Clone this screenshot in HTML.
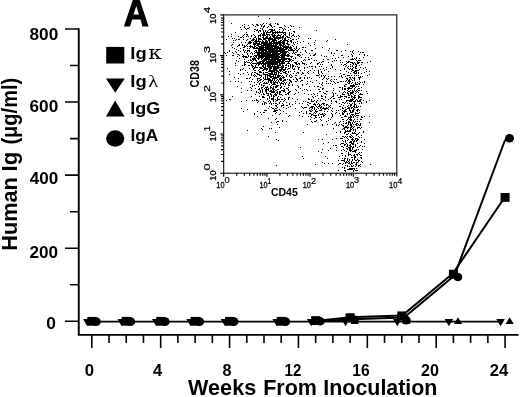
<!DOCTYPE html>
<html><head><meta charset="utf-8"><title>Figure A</title>
<style>html,body{margin:0;padding:0;background:#fff}svg{display:block}</style></head>
<body>
<svg width="520" height="397" viewBox="0 0 520 397">
<rect width="520" height="397" fill="#fff"/>
<g id="axes"><path d="M78.75 28.2V334.9H518.5" fill="none" stroke="#000" stroke-width="1.9" stroke-linejoin="miter"/><path d="M65 321.30H78.75M70 284.76H78.75M65 248.22H78.75M70 211.69H78.75M65 175.15H78.75M70 138.61H78.75M65 102.07H78.75M70 65.53H78.75M65 29.00H78.75M91.80 334.9V348.1M109.02 334.9V342.9M126.24 334.9V342.9M143.46 334.9V342.9M160.68 334.9V348.1M177.90 334.9V342.9M195.12 334.9V342.9M212.34 334.9V342.9M229.56 334.9V348.1M246.78 334.9V342.9M264.00 334.9V342.9M281.22 334.9V342.9M298.44 334.9V348.1M315.66 334.9V342.9M332.88 334.9V342.9M350.10 334.9V342.9M367.32 334.9V348.1M384.54 334.9V342.9M401.76 334.9V342.9M418.98 334.9V342.9M436.20 334.9V348.1M453.42 334.9V342.9M470.64 334.9V342.9M487.86 334.9V342.9M505.08 334.9V348.1" fill="none" stroke="#000" stroke-width="1.6"/></g>
<g id="data" fill="#000"><path d="M87.80 321.60H503.08" stroke="#000" stroke-width="1.7"/><polyline points="315.66,321.00 350.10,317.30 402.26,315.40 452.82,273.60 502.58,200.50" fill="none" stroke="#000" stroke-width="2.0" stroke-linejoin="round" stroke-linecap="round"/><polyline points="317.66,321.50 352.10,319.30 404.06,317.60 454.52,275.40 504.48,141.50 506.58,138.30" fill="none" stroke="#000" stroke-width="2.0" stroke-linejoin="round" stroke-linecap="round"/><path d="M83.00 319.00h8.6l-4.3 7.2z"/><path d="M117.44 319.00h8.6l-4.3 7.2z"/><path d="M151.88 319.00h8.6l-4.3 7.2z"/><path d="M186.32 319.00h8.6l-4.3 7.2z"/><path d="M220.76 319.00h8.6l-4.3 7.2z"/><path d="M272.42 319.00h8.6l-4.3 7.2z"/><path d="M306.86 319.00h8.6l-4.3 7.2z"/><path d="M341.30 319.00h8.6l-4.3 7.2z"/><path d="M392.96 319.00h8.6l-4.3 7.2z"/><path d="M444.62 319.00h8.6l-4.3 7.2z"/><path d="M496.28 319.00h8.6l-4.3 7.2z"/><path d="M92.30 324.00h8.2l-4.1 -6.7z"/><path d="M126.74 324.00h8.2l-4.1 -6.7z"/><path d="M161.18 324.00h8.2l-4.1 -6.7z"/><path d="M195.62 324.00h8.2l-4.1 -6.7z"/><path d="M230.06 324.00h8.2l-4.1 -6.7z"/><path d="M281.72 324.00h8.2l-4.1 -6.7z"/><path d="M316.16 324.00h8.2l-4.1 -6.7z"/><path d="M350.60 324.00h8.2l-4.1 -6.7z"/><path d="M402.26 324.00h8.2l-4.1 -6.7z"/><path d="M453.92 324.00h8.2l-4.1 -6.7z"/><path d="M505.58 324.00h8.2l-4.1 -6.7z"/><rect x="87.30" y="316.90" width="9" height="8.8"/><rect x="121.74" y="316.90" width="9" height="8.8"/><rect x="156.18" y="316.90" width="9" height="8.8"/><rect x="190.62" y="316.90" width="9" height="8.8"/><rect x="225.06" y="316.90" width="9" height="8.8"/><rect x="276.72" y="316.90" width="9" height="8.8"/><rect x="311.16" y="316.17" width="9" height="8.8"/><rect x="345.60" y="313.25" width="9" height="8.8"/><rect x="397.26" y="311.42" width="9" height="8.8"/><rect x="448.92" y="269.77" width="9" height="8.8"/><rect x="500.58" y="193.04" width="9" height="8.8"/><ellipse cx="96.20" cy="321.60" rx="4.5" ry="4.3"/><ellipse cx="130.64" cy="321.60" rx="4.5" ry="4.3"/><ellipse cx="165.08" cy="321.60" rx="4.5" ry="4.3"/><ellipse cx="199.52" cy="321.60" rx="4.5" ry="4.3"/><ellipse cx="233.96" cy="321.60" rx="4.5" ry="4.3"/><ellipse cx="285.62" cy="321.60" rx="4.5" ry="4.3"/><ellipse cx="320.06" cy="321.23" rx="4.5" ry="4.3"/><ellipse cx="354.50" cy="319.77" rx="4.5" ry="4.3"/><ellipse cx="406.16" cy="320.14" rx="4.5" ry="4.3"/><ellipse cx="457.82" cy="277.02" rx="4.5" ry="4.3"/><ellipse cx="509.48" cy="138.18" rx="4.5" ry="4.3"/></g>
<g id="legend" fill="#000"><rect x="106.2" y="46.9" width="18.1" height="16.6"/><path d="M106 78.4H124.8L115.2 92.8z"/><path d="M106 116.6H124.6L115.1 100.6z"/><ellipse cx="115.2" cy="138.5" rx="9.1" ry="8.3"/></g>
<g id="inset"><rect x="223.7" y="14.9" width="173.10000000000002" height="158.29999999999998" fill="none" stroke="#000" stroke-width="1.05"/><path d="M223.70 173.2v3.6M223.7 173.20h-3.6M236.70 173.2v2.6M223.7 161.40h-2.6M244.31 173.2v2.6M223.7 154.50h-2.6M249.71 173.2v2.6M223.7 149.60h-2.6M253.90 173.2v2.6M223.7 145.80h-2.6M257.32 173.2v2.6M223.7 142.70h-2.6M260.21 173.2v2.6M223.7 140.07h-2.6M262.71 173.2v2.6M223.7 137.80h-2.6M264.92 173.2v2.6M223.7 135.79h-2.6M266.90 173.2v3.6M223.7 134.00h-3.6M279.90 173.2v2.6M223.7 122.20h-2.6M287.51 173.2v2.6M223.7 115.30h-2.6M292.91 173.2v2.6M223.7 110.40h-2.6M297.10 173.2v2.6M223.7 106.60h-2.6M300.52 173.2v2.6M223.7 103.50h-2.6M303.41 173.2v2.6M223.7 100.87h-2.6M305.91 173.2v2.6M223.7 98.60h-2.6M308.12 173.2v2.6M223.7 96.59h-2.6M310.10 173.2v3.6M223.7 94.80h-3.6M323.10 173.2v2.6M223.7 83.00h-2.6M330.71 173.2v2.6M223.7 76.10h-2.6M336.11 173.2v2.6M223.7 71.20h-2.6M340.30 173.2v2.6M223.7 67.40h-2.6M343.72 173.2v2.6M223.7 64.30h-2.6M346.61 173.2v2.6M223.7 61.67h-2.6M349.11 173.2v2.6M223.7 59.40h-2.6M351.32 173.2v2.6M223.7 57.39h-2.6M353.30 173.2v3.6M223.7 55.60h-3.6M366.30 173.2v2.6M223.7 43.80h-2.6M373.91 173.2v2.6M223.7 36.90h-2.6M379.31 173.2v2.6M223.7 32.00h-2.6M383.50 173.2v2.6M223.7 28.20h-2.6M386.92 173.2v2.6M223.7 25.10h-2.6M389.81 173.2v2.6M223.7 22.47h-2.6M392.31 173.2v2.6M223.7 20.20h-2.6M394.52 173.2v2.6M223.7 18.19h-2.6M223.7 14.9h-3.4M396.8 173.2v3.4" fill="none" stroke="#000" stroke-width="1.15"/><path d="M224 52.5h1M225 53.5h1M226 39.5h1M226 55.5h1M226 100.5h1M227 52.5h1M227 68.5h1M228 36.5h1M229 50.5h1M229 51.5h1M229 71.5h1M229 74.5h1M229 99.5h1M230 81.5h1M230 99.5h1M231 23.5h1M231 34.5h1M231 36.5h1M231 45.5h1M232 38.5h1M232 44.5h1M232 47.5h1M232 52.5h1M232 55.5h1M232 96.5h1M233 40.5h1M233 42.5h1M233 53.5h1M233 55.5h1M234 38.5h1M234 48.5h1M234 77.5h1M235 32.5h1M235 40.5h1M235 51.5h1M235 63.5h1M235 65.5h1M235 81.5h1M236 39.5h1M236 49.5h1M236 52.5h1M236 60.5h1M237 46.5h1M237 54.5h1M237 56.5h1M237 86.5h1M238 36.5h1M238 39.5h1M238 45.5h1M238 50.5h1M238 54.5h1M238 61.5h1M238 73.5h1M238 78.5h1M238 81.5h1M239 39.5h1M239 44.5h1M239 45.5h1M239 55.5h1M239 58.5h1M240 27.5h1M240 37.5h1M240 48.5h1M240 51.5h1M240 69.5h1M240 70.5h1M240 74.5h1M241 29.5h1M241 37.5h1M241 42.5h1M241 82.5h1M241 88.5h1M241 92.5h1M241 101.5h1M241 108.5h1M242 25.5h1M242 36.5h1M242 44.5h1M242 45.5h1M242 54.5h1M242 56.5h1M242 65.5h1M242 69.5h1M243 35.5h1M243 37.5h1M243 39.5h1M243 47.5h1M243 49.5h1M243 50.5h1M243 55.5h1M243 56.5h1M243 57.5h1M243 68.5h1M243 73.5h1M243 111.5h1M244 24.5h1M244 26.5h1M244 27.5h1M244 34.5h1M244 45.5h1M244 46.5h1M244 47.5h1M244 51.5h1M244 52.5h1M244 56.5h1M244 59.5h1M244 61.5h1M244 62.5h1M244 63.5h1M244 64.5h1M244 65.5h1M245 28.5h1M245 42.5h1M245 46.5h1M245 50.5h1M245 56.5h1M245 57.5h1M245 62.5h1M245 64.5h1M245 70.5h1M246 29.5h1M246 32.5h1M246 34.5h1M246 36.5h1M246 40.5h1M246 45.5h1M246 52.5h1M246 56.5h1M246 57.5h1M246 61.5h1M246 78.5h1M246 100.5h1M247 28.5h1M247 34.5h1M247 35.5h1M247 39.5h1M247 44.5h1M247 46.5h1M247 48.5h1M247 50.5h1M247 51.5h1M247 53.5h1M247 54.5h1M247 57.5h1M247 62.5h1M247 72.5h1M247 78.5h1M247 90.5h1M247 109.5h1M247 130.5h1M248 25.5h1M248 28.5h1M248 36.5h1M248 42.5h1M248 43.5h1M248 50.5h1M248 55.5h1M248 56.5h1M248 60.5h1M248 62.5h1M248 65.5h1M248 74.5h1M249 27.5h1M249 41.5h1M249 42.5h1M249 43.5h1M249 46.5h1M249 48.5h1M249 50.5h1M249 51.5h1M249 62.5h1M249 65.5h1M249 68.5h1M249 78.5h1M249 81.5h1M250 38.5h1M250 41.5h1M250 42.5h1M250 43.5h1M250 45.5h1M250 46.5h1M250 47.5h1M250 53.5h1M250 56.5h1M250 57.5h1M250 59.5h1M250 60.5h1M250 63.5h1M250 77.5h1M250 84.5h1M250 87.5h1M251 35.5h1M251 36.5h1M251 40.5h1M251 42.5h1M251 46.5h1M251 52.5h1M251 56.5h1M251 60.5h1M251 62.5h1M251 64.5h1M251 65.5h1M251 73.5h1M251 74.5h1M251 75.5h1M251 81.5h1M251 88.5h1M251 90.5h1M251 96.5h1M252 24.5h1M252 39.5h1M252 40.5h1M252 46.5h1M252 47.5h1M252 53.5h1M252 54.5h1M252 58.5h1M252 59.5h1M252 61.5h1M252 63.5h1M252 65.5h1M252 66.5h1M252 67.5h1M252 72.5h1M252 79.5h1M252 85.5h1M252 86.5h1M252 100.5h1M253 25.5h1M253 34.5h1M253 38.5h1M253 39.5h1M253 40.5h1M253 42.5h1M253 43.5h1M253 44.5h1M253 47.5h1M253 48.5h1M253 56.5h1M253 58.5h1M253 59.5h1M253 60.5h1M253 63.5h1M253 66.5h1M253 68.5h1M253 69.5h1M253 75.5h1M254 29.5h1M254 31.5h1M254 35.5h1M254 37.5h1M254 39.5h1M254 41.5h1M254 43.5h1M254 44.5h1M254 45.5h1M254 46.5h1M254 47.5h1M254 48.5h1M254 51.5h1M254 53.5h1M254 55.5h1M254 57.5h1M254 58.5h1M254 59.5h1M254 63.5h1M254 67.5h1M254 68.5h1M254 70.5h1M254 72.5h1M254 74.5h1M254 76.5h1M254 82.5h1M254 85.5h1M254 100.5h1M254 113.5h1M254 114.5h1M255 26.5h1M255 29.5h1M255 36.5h1M255 37.5h1M255 40.5h1M255 41.5h1M255 42.5h1M255 43.5h1M255 44.5h1M255 46.5h1M255 48.5h1M255 50.5h1M255 52.5h1M255 55.5h1M255 56.5h1M255 58.5h1M255 59.5h1M255 60.5h1M255 63.5h1M255 65.5h1M255 66.5h1M255 67.5h1M255 70.5h1M255 72.5h1M255 75.5h1M255 88.5h1M255 94.5h1M256 24.5h1M256 30.5h1M256 38.5h1M256 39.5h1M256 40.5h1M256 41.5h1M256 42.5h1M256 43.5h1M256 45.5h1M256 47.5h1M256 48.5h1M256 50.5h1M256 51.5h1M256 52.5h1M256 55.5h1M256 56.5h1M256 57.5h1M256 60.5h1M256 61.5h1M256 63.5h1M256 64.5h1M256 67.5h1M256 73.5h1M256 76.5h1M256 84.5h1M256 91.5h1M256 92.5h1M256 99.5h1M256 100.5h1M257 24.5h1M257 25.5h1M257 29.5h1M257 30.5h1M257 41.5h1M257 43.5h1M257 44.5h1M257 45.5h1M257 47.5h1M257 48.5h1M257 52.5h1M257 53.5h1M257 54.5h1M257 55.5h1M257 58.5h1M257 62.5h1M257 63.5h1M257 67.5h1M257 73.5h1M257 74.5h1M257 78.5h1M257 79.5h1M257 80.5h1M257 82.5h1M257 100.5h1M257 102.5h1M257 111.5h1M257 116.5h1M258 16.5h1M258 25.5h1M258 31.5h1M258 32.5h1M258 35.5h1M258 36.5h1M258 37.5h1M258 38.5h1M258 39.5h1M258 40.5h1M258 41.5h1M258 43.5h1M258 44.5h1M258 45.5h1M258 46.5h1M258 48.5h1M258 49.5h1M258 50.5h1M258 51.5h1M258 52.5h1M258 53.5h1M258 54.5h1M258 55.5h1M258 56.5h1M258 57.5h1M258 58.5h1M258 59.5h1M258 62.5h1M258 63.5h1M258 64.5h1M258 65.5h1M258 70.5h1M258 74.5h1M258 78.5h1M258 81.5h1M258 86.5h1M258 89.5h1M258 92.5h1M258 101.5h1M259 30.5h1M259 35.5h1M259 38.5h1M259 39.5h1M259 41.5h1M259 42.5h1M259 43.5h1M259 44.5h1M259 46.5h1M259 47.5h1M259 48.5h1M259 49.5h1M259 50.5h1M259 51.5h1M259 52.5h1M259 53.5h1M259 54.5h1M259 55.5h1M259 56.5h1M259 57.5h1M259 58.5h1M259 61.5h1M259 62.5h1M259 63.5h1M259 64.5h1M259 67.5h1M259 69.5h1M259 71.5h1M259 72.5h1M259 74.5h1M259 75.5h1M259 78.5h1M259 80.5h1M259 83.5h1M259 84.5h1M259 88.5h1M259 89.5h1M259 93.5h1M259 96.5h1M260 24.5h1M260 28.5h1M260 30.5h1M260 31.5h1M260 34.5h1M260 35.5h1M260 36.5h1M260 38.5h1M260 39.5h1M260 41.5h1M260 44.5h1M260 46.5h1M260 47.5h1M260 48.5h1M260 49.5h1M260 50.5h1M260 52.5h1M260 53.5h1M260 55.5h1M260 56.5h1M260 57.5h1M260 61.5h1M260 62.5h1M260 63.5h1M260 67.5h1M260 68.5h1M260 71.5h1M260 72.5h1M260 75.5h1M260 77.5h1M260 79.5h1M260 80.5h1M260 82.5h1M260 90.5h1M260 91.5h1M260 92.5h1M260 99.5h1M260 112.5h1M261 25.5h1M261 26.5h1M261 33.5h1M261 39.5h1M261 42.5h1M261 43.5h1M261 44.5h1M261 45.5h1M261 46.5h1M261 47.5h1M261 48.5h1M261 49.5h1M261 50.5h1M261 51.5h1M261 52.5h1M261 53.5h1M261 54.5h1M261 55.5h1M261 56.5h1M261 57.5h1M261 58.5h1M261 59.5h1M261 61.5h1M261 63.5h1M261 64.5h1M261 67.5h1M261 68.5h1M261 72.5h1M261 75.5h1M261 76.5h1M261 79.5h1M261 84.5h1M261 85.5h1M261 87.5h1M261 88.5h1M261 94.5h1M261 114.5h1M261 128.5h1M262 24.5h1M262 28.5h1M262 29.5h1M262 34.5h1M262 35.5h1M262 37.5h1M262 40.5h1M262 41.5h1M262 42.5h1M262 43.5h1M262 45.5h1M262 46.5h1M262 47.5h1M262 48.5h1M262 49.5h1M262 50.5h1M262 51.5h1M262 52.5h1M262 53.5h1M262 54.5h1M262 55.5h1M262 56.5h1M262 57.5h1M262 58.5h1M262 60.5h1M262 61.5h1M262 62.5h1M262 63.5h1M262 65.5h1M262 66.5h1M262 68.5h1M262 70.5h1M262 81.5h1M262 87.5h1M262 89.5h1M262 90.5h1M262 91.5h1M262 92.5h1M262 96.5h1M262 97.5h1M262 103.5h1M262 104.5h1M262 129.5h1M263 23.5h1M263 26.5h1M263 27.5h1M263 30.5h1M263 31.5h1M263 32.5h1M263 33.5h1M263 34.5h1M263 35.5h1M263 36.5h1M263 37.5h1M263 38.5h1M263 39.5h1M263 41.5h1M263 42.5h1M263 43.5h1M263 44.5h1M263 45.5h1M263 46.5h1M263 47.5h1M263 48.5h1M263 49.5h1M263 50.5h1M263 51.5h1M263 52.5h1M263 53.5h1M263 54.5h1M263 55.5h1M263 56.5h1M263 57.5h1M263 59.5h1M263 60.5h1M263 61.5h1M263 62.5h1M263 63.5h1M263 64.5h1M263 65.5h1M263 66.5h1M263 67.5h1M263 69.5h1M263 70.5h1M263 72.5h1M263 73.5h1M263 74.5h1M263 77.5h1M263 78.5h1M263 80.5h1M263 83.5h1M263 85.5h1M263 86.5h1M263 93.5h1M263 94.5h1M263 96.5h1M263 97.5h1M263 101.5h1M263 112.5h1M263 126.5h1M264 25.5h1M264 26.5h1M264 32.5h1M264 33.5h1M264 34.5h1M264 35.5h1M264 38.5h1M264 39.5h1M264 42.5h1M264 43.5h1M264 44.5h1M264 45.5h1M264 47.5h1M264 49.5h1M264 50.5h1M264 52.5h1M264 53.5h1M264 54.5h1M264 55.5h1M264 56.5h1M264 58.5h1M264 59.5h1M264 60.5h1M264 61.5h1M264 63.5h1M264 64.5h1M264 67.5h1M264 68.5h1M264 69.5h1M264 74.5h1M264 79.5h1M264 82.5h1M264 83.5h1M264 85.5h1M264 88.5h1M264 94.5h1M264 97.5h1M264 102.5h1M264 103.5h1M264 104.5h1M264 110.5h1M264 112.5h1M265 30.5h1M265 31.5h1M265 35.5h1M265 37.5h1M265 38.5h1M265 39.5h1M265 40.5h1M265 41.5h1M265 42.5h1M265 43.5h1M265 44.5h1M265 45.5h1M265 46.5h1M265 47.5h1M265 48.5h1M265 49.5h1M265 50.5h1M265 51.5h1M265 52.5h1M265 53.5h1M265 54.5h1M265 55.5h1M265 56.5h1M265 57.5h1M265 58.5h1M265 59.5h1M265 60.5h1M265 62.5h1M265 63.5h1M265 64.5h1M265 65.5h1M265 66.5h1M265 67.5h1M265 68.5h1M265 69.5h1M265 72.5h1M265 74.5h1M265 75.5h1M265 76.5h1M265 77.5h1M265 78.5h1M265 79.5h1M265 83.5h1M265 87.5h1M265 89.5h1M265 90.5h1M265 91.5h1M265 102.5h1M265 110.5h1M266 23.5h1M266 32.5h1M266 33.5h1M266 34.5h1M266 36.5h1M266 37.5h1M266 38.5h1M266 40.5h1M266 41.5h1M266 42.5h1M266 43.5h1M266 44.5h1M266 45.5h1M266 46.5h1M266 47.5h1M266 48.5h1M266 49.5h1M266 50.5h1M266 51.5h1M266 52.5h1M266 53.5h1M266 54.5h1M266 55.5h1M266 56.5h1M266 57.5h1M266 58.5h1M266 59.5h1M266 60.5h1M266 61.5h1M266 62.5h1M266 63.5h1M266 68.5h1M266 69.5h1M266 70.5h1M266 72.5h1M266 74.5h1M266 79.5h1M266 82.5h1M266 83.5h1M266 87.5h1M266 88.5h1M266 89.5h1M266 90.5h1M266 91.5h1M266 92.5h1M266 93.5h1M266 103.5h1M266 110.5h1M267 27.5h1M267 31.5h1M267 32.5h1M267 34.5h1M267 35.5h1M267 36.5h1M267 37.5h1M267 38.5h1M267 41.5h1M267 42.5h1M267 43.5h1M267 44.5h1M267 45.5h1M267 46.5h1M267 47.5h1M267 48.5h1M267 49.5h1M267 51.5h1M267 52.5h1M267 53.5h1M267 54.5h1M267 55.5h1M267 56.5h1M267 57.5h1M267 58.5h1M267 59.5h1M267 61.5h1M267 62.5h1M267 63.5h1M267 64.5h1M267 65.5h1M267 66.5h1M267 68.5h1M267 69.5h1M267 72.5h1M267 74.5h1M267 75.5h1M267 76.5h1M267 77.5h1M267 78.5h1M267 79.5h1M267 83.5h1M267 86.5h1M267 87.5h1M267 89.5h1M267 93.5h1M267 95.5h1M267 98.5h1M267 99.5h1M268 26.5h1M268 30.5h1M268 32.5h1M268 34.5h1M268 38.5h1M268 39.5h1M268 40.5h1M268 43.5h1M268 44.5h1M268 45.5h1M268 46.5h1M268 47.5h1M268 48.5h1M268 49.5h1M268 50.5h1M268 51.5h1M268 52.5h1M268 53.5h1M268 54.5h1M268 55.5h1M268 56.5h1M268 57.5h1M268 58.5h1M268 59.5h1M268 60.5h1M268 61.5h1M268 62.5h1M268 63.5h1M268 64.5h1M268 65.5h1M268 66.5h1M268 67.5h1M268 71.5h1M268 73.5h1M268 75.5h1M268 78.5h1M268 79.5h1M268 80.5h1M268 81.5h1M268 82.5h1M268 88.5h1M268 89.5h1M268 90.5h1M268 93.5h1M268 94.5h1M268 95.5h1M268 101.5h1M268 108.5h1M268 118.5h1M268 136.5h1M269 18.5h1M269 24.5h1M269 29.5h1M269 32.5h1M269 34.5h1M269 35.5h1M269 37.5h1M269 38.5h1M269 39.5h1M269 40.5h1M269 41.5h1M269 42.5h1M269 43.5h1M269 44.5h1M269 45.5h1M269 46.5h1M269 47.5h1M269 48.5h1M269 49.5h1M269 50.5h1M269 51.5h1M269 52.5h1M269 53.5h1M269 54.5h1M269 55.5h1M269 56.5h1M269 57.5h1M269 58.5h1M269 59.5h1M269 60.5h1M269 61.5h1M269 62.5h1M269 63.5h1M269 64.5h1M269 65.5h1M269 66.5h1M269 67.5h1M269 68.5h1M269 69.5h1M269 70.5h1M269 71.5h1M269 73.5h1M269 74.5h1M269 75.5h1M269 76.5h1M269 78.5h1M269 79.5h1M269 80.5h1M269 84.5h1M269 91.5h1M269 96.5h1M269 97.5h1M269 98.5h1M269 100.5h1M269 103.5h1M269 106.5h1M269 128.5h1M270 23.5h1M270 24.5h1M270 25.5h1M270 29.5h1M270 31.5h1M270 32.5h1M270 36.5h1M270 37.5h1M270 38.5h1M270 39.5h1M270 42.5h1M270 43.5h1M270 44.5h1M270 45.5h1M270 46.5h1M270 47.5h1M270 48.5h1M270 49.5h1M270 50.5h1M270 51.5h1M270 52.5h1M270 53.5h1M270 54.5h1M270 55.5h1M270 56.5h1M270 57.5h1M270 59.5h1M270 60.5h1M270 61.5h1M270 62.5h1M270 63.5h1M270 64.5h1M270 65.5h1M270 66.5h1M270 67.5h1M270 68.5h1M270 69.5h1M270 70.5h1M270 71.5h1M270 73.5h1M270 74.5h1M270 75.5h1M270 76.5h1M270 77.5h1M270 79.5h1M270 80.5h1M270 81.5h1M270 82.5h1M270 86.5h1M270 87.5h1M270 88.5h1M270 90.5h1M270 91.5h1M270 93.5h1M270 94.5h1M270 101.5h1M270 102.5h1M271 25.5h1M271 26.5h1M271 29.5h1M271 30.5h1M271 31.5h1M271 34.5h1M271 38.5h1M271 39.5h1M271 41.5h1M271 42.5h1M271 43.5h1M271 44.5h1M271 45.5h1M271 46.5h1M271 47.5h1M271 48.5h1M271 49.5h1M271 50.5h1M271 51.5h1M271 52.5h1M271 54.5h1M271 55.5h1M271 56.5h1M271 57.5h1M271 58.5h1M271 59.5h1M271 60.5h1M271 61.5h1M271 62.5h1M271 63.5h1M271 64.5h1M271 66.5h1M271 67.5h1M271 68.5h1M271 70.5h1M271 71.5h1M271 72.5h1M271 73.5h1M271 74.5h1M271 76.5h1M271 77.5h1M271 80.5h1M271 81.5h1M271 82.5h1M271 83.5h1M271 85.5h1M271 87.5h1M271 90.5h1M271 91.5h1M271 92.5h1M271 94.5h1M271 95.5h1M271 96.5h1M271 98.5h1M271 99.5h1M271 103.5h1M271 104.5h1M271 107.5h1M271 122.5h1M271 128.5h1M272 27.5h1M272 29.5h1M272 30.5h1M272 31.5h1M272 32.5h1M272 33.5h1M272 34.5h1M272 35.5h1M272 36.5h1M272 38.5h1M272 39.5h1M272 40.5h1M272 41.5h1M272 43.5h1M272 45.5h1M272 46.5h1M272 47.5h1M272 48.5h1M272 49.5h1M272 50.5h1M272 51.5h1M272 52.5h1M272 53.5h1M272 54.5h1M272 55.5h1M272 56.5h1M272 57.5h1M272 58.5h1M272 59.5h1M272 60.5h1M272 61.5h1M272 62.5h1M272 63.5h1M272 64.5h1M272 65.5h1M272 66.5h1M272 70.5h1M272 71.5h1M272 72.5h1M272 73.5h1M272 74.5h1M272 76.5h1M272 78.5h1M272 79.5h1M272 80.5h1M272 84.5h1M272 88.5h1M272 89.5h1M272 91.5h1M272 92.5h1M272 98.5h1M272 99.5h1M272 108.5h1M272 115.5h1M273 30.5h1M273 32.5h1M273 33.5h1M273 35.5h1M273 36.5h1M273 37.5h1M273 39.5h1M273 40.5h1M273 41.5h1M273 42.5h1M273 43.5h1M273 44.5h1M273 45.5h1M273 46.5h1M273 48.5h1M273 49.5h1M273 50.5h1M273 51.5h1M273 52.5h1M273 53.5h1M273 54.5h1M273 55.5h1M273 56.5h1M273 57.5h1M273 58.5h1M273 59.5h1M273 60.5h1M273 61.5h1M273 62.5h1M273 63.5h1M273 64.5h1M273 66.5h1M273 67.5h1M273 68.5h1M273 69.5h1M273 70.5h1M273 71.5h1M273 74.5h1M273 75.5h1M273 76.5h1M273 77.5h1M273 78.5h1M273 81.5h1M273 82.5h1M273 83.5h1M273 84.5h1M273 86.5h1M273 87.5h1M273 88.5h1M273 89.5h1M273 90.5h1M273 91.5h1M273 92.5h1M273 95.5h1M273 96.5h1M273 97.5h1M273 98.5h1M273 99.5h1M273 100.5h1M273 101.5h1M273 103.5h1M273 108.5h1M273 111.5h1M274 26.5h1M274 29.5h1M274 30.5h1M274 32.5h1M274 34.5h1M274 35.5h1M274 36.5h1M274 37.5h1M274 38.5h1M274 39.5h1M274 40.5h1M274 41.5h1M274 42.5h1M274 43.5h1M274 45.5h1M274 46.5h1M274 47.5h1M274 48.5h1M274 49.5h1M274 50.5h1M274 51.5h1M274 52.5h1M274 53.5h1M274 54.5h1M274 55.5h1M274 56.5h1M274 57.5h1M274 58.5h1M274 59.5h1M274 60.5h1M274 61.5h1M274 62.5h1M274 63.5h1M274 64.5h1M274 65.5h1M274 66.5h1M274 67.5h1M274 68.5h1M274 69.5h1M274 70.5h1M274 71.5h1M274 72.5h1M274 73.5h1M274 74.5h1M274 77.5h1M274 78.5h1M274 79.5h1M274 80.5h1M274 82.5h1M274 83.5h1M274 84.5h1M274 89.5h1M274 91.5h1M274 92.5h1M274 94.5h1M274 96.5h1M274 109.5h1M274 110.5h1M274 111.5h1M275 23.5h1M275 31.5h1M275 32.5h1M275 33.5h1M275 35.5h1M275 37.5h1M275 38.5h1M275 39.5h1M275 40.5h1M275 42.5h1M275 43.5h1M275 44.5h1M275 45.5h1M275 46.5h1M275 47.5h1M275 48.5h1M275 49.5h1M275 50.5h1M275 51.5h1M275 52.5h1M275 53.5h1M275 54.5h1M275 55.5h1M275 56.5h1M275 57.5h1M275 58.5h1M275 59.5h1M275 60.5h1M275 61.5h1M275 62.5h1M275 63.5h1M275 64.5h1M275 66.5h1M275 67.5h1M275 68.5h1M275 69.5h1M275 70.5h1M275 72.5h1M275 74.5h1M275 75.5h1M275 76.5h1M275 77.5h1M275 78.5h1M275 81.5h1M275 82.5h1M275 84.5h1M275 86.5h1M275 87.5h1M275 90.5h1M275 93.5h1M275 94.5h1M275 95.5h1M275 99.5h1M275 101.5h1M275 103.5h1M275 105.5h1M275 108.5h1M275 110.5h1M275 111.5h1M275 113.5h1M275 119.5h1M275 132.5h1M276 32.5h1M276 36.5h1M276 37.5h1M276 38.5h1M276 40.5h1M276 41.5h1M276 42.5h1M276 43.5h1M276 44.5h1M276 45.5h1M276 46.5h1M276 47.5h1M276 48.5h1M276 49.5h1M276 50.5h1M276 51.5h1M276 52.5h1M276 53.5h1M276 54.5h1M276 55.5h1M276 56.5h1M276 57.5h1M276 58.5h1M276 59.5h1M276 61.5h1M276 62.5h1M276 63.5h1M276 64.5h1M276 66.5h1M276 67.5h1M276 68.5h1M276 69.5h1M276 70.5h1M276 71.5h1M276 72.5h1M276 73.5h1M276 74.5h1M276 77.5h1M276 78.5h1M276 80.5h1M276 82.5h1M276 85.5h1M276 86.5h1M276 87.5h1M276 90.5h1M276 92.5h1M276 94.5h1M276 95.5h1M276 100.5h1M276 103.5h1M276 105.5h1M276 106.5h1M276 108.5h1M276 110.5h1M276 112.5h1M276 118.5h1M276 122.5h1M276 139.5h1M276 165.5h1M277 23.5h1M277 24.5h1M277 31.5h1M277 32.5h1M277 33.5h1M277 35.5h1M277 36.5h1M277 37.5h1M277 38.5h1M277 42.5h1M277 43.5h1M277 44.5h1M277 46.5h1M277 47.5h1M277 48.5h1M277 49.5h1M277 50.5h1M277 51.5h1M277 52.5h1M277 53.5h1M277 54.5h1M277 55.5h1M277 56.5h1M277 57.5h1M277 58.5h1M277 59.5h1M277 60.5h1M277 61.5h1M277 62.5h1M277 63.5h1M277 64.5h1M277 65.5h1M277 66.5h1M277 67.5h1M277 68.5h1M277 70.5h1M277 71.5h1M277 75.5h1M277 76.5h1M277 77.5h1M277 79.5h1M277 82.5h1M277 83.5h1M277 85.5h1M277 86.5h1M277 89.5h1M277 91.5h1M277 92.5h1M277 93.5h1M277 97.5h1M277 98.5h1M277 99.5h1M277 100.5h1M277 104.5h1M277 107.5h1M277 110.5h1M277 121.5h1M277 124.5h1M278 24.5h1M278 32.5h1M278 34.5h1M278 35.5h1M278 37.5h1M278 38.5h1M278 39.5h1M278 41.5h1M278 42.5h1M278 43.5h1M278 46.5h1M278 47.5h1M278 48.5h1M278 50.5h1M278 51.5h1M278 53.5h1M278 54.5h1M278 55.5h1M278 56.5h1M278 57.5h1M278 58.5h1M278 59.5h1M278 60.5h1M278 61.5h1M278 62.5h1M278 65.5h1M278 66.5h1M278 67.5h1M278 68.5h1M278 71.5h1M278 72.5h1M278 73.5h1M278 74.5h1M278 75.5h1M278 76.5h1M278 77.5h1M278 80.5h1M278 81.5h1M278 85.5h1M278 89.5h1M278 96.5h1M278 99.5h1M278 121.5h1M278 140.5h1M279 27.5h1M279 29.5h1M279 31.5h1M279 32.5h1M279 35.5h1M279 37.5h1M279 38.5h1M279 41.5h1M279 42.5h1M279 43.5h1M279 44.5h1M279 45.5h1M279 47.5h1M279 48.5h1M279 49.5h1M279 50.5h1M279 51.5h1M279 53.5h1M279 54.5h1M279 56.5h1M279 57.5h1M279 59.5h1M279 60.5h1M279 61.5h1M279 62.5h1M279 63.5h1M279 64.5h1M279 65.5h1M279 67.5h1M279 69.5h1M279 70.5h1M279 72.5h1M279 75.5h1M279 76.5h1M279 78.5h1M279 79.5h1M279 82.5h1M279 91.5h1M279 92.5h1M279 93.5h1M279 94.5h1M279 99.5h1M279 102.5h1M279 103.5h1M279 109.5h1M279 114.5h1M279 127.5h1M280 27.5h1M280 32.5h1M280 35.5h1M280 36.5h1M280 37.5h1M280 38.5h1M280 40.5h1M280 41.5h1M280 42.5h1M280 43.5h1M280 44.5h1M280 45.5h1M280 46.5h1M280 47.5h1M280 48.5h1M280 49.5h1M280 50.5h1M280 51.5h1M280 52.5h1M280 53.5h1M280 55.5h1M280 57.5h1M280 59.5h1M280 60.5h1M280 61.5h1M280 63.5h1M280 64.5h1M280 65.5h1M280 67.5h1M280 69.5h1M280 70.5h1M280 71.5h1M280 73.5h1M280 75.5h1M280 77.5h1M280 78.5h1M280 79.5h1M280 80.5h1M280 83.5h1M280 84.5h1M280 85.5h1M280 87.5h1M280 88.5h1M280 91.5h1M280 92.5h1M280 94.5h1M280 97.5h1M280 101.5h1M280 110.5h1M280 113.5h1M281 27.5h1M281 32.5h1M281 34.5h1M281 37.5h1M281 40.5h1M281 42.5h1M281 44.5h1M281 45.5h1M281 47.5h1M281 48.5h1M281 49.5h1M281 50.5h1M281 51.5h1M281 52.5h1M281 54.5h1M281 55.5h1M281 56.5h1M281 57.5h1M281 58.5h1M281 59.5h1M281 61.5h1M281 62.5h1M281 63.5h1M281 66.5h1M281 67.5h1M281 68.5h1M281 69.5h1M281 70.5h1M281 73.5h1M281 76.5h1M281 78.5h1M281 79.5h1M281 80.5h1M281 82.5h1M281 83.5h1M281 86.5h1M281 87.5h1M281 90.5h1M281 94.5h1M281 99.5h1M281 105.5h1M281 106.5h1M282 28.5h1M282 31.5h1M282 32.5h1M282 36.5h1M282 37.5h1M282 38.5h1M282 39.5h1M282 41.5h1M282 42.5h1M282 43.5h1M282 45.5h1M282 46.5h1M282 48.5h1M282 49.5h1M282 50.5h1M282 51.5h1M282 52.5h1M282 53.5h1M282 54.5h1M282 55.5h1M282 56.5h1M282 57.5h1M282 58.5h1M282 59.5h1M282 60.5h1M282 61.5h1M282 62.5h1M282 63.5h1M282 64.5h1M282 65.5h1M282 66.5h1M282 67.5h1M282 68.5h1M282 69.5h1M282 71.5h1M282 75.5h1M282 77.5h1M282 81.5h1M282 83.5h1M282 90.5h1M282 95.5h1M282 99.5h1M282 103.5h1M282 105.5h1M282 120.5h1M282 121.5h1M283 29.5h1M283 30.5h1M283 32.5h1M283 33.5h1M283 35.5h1M283 36.5h1M283 37.5h1M283 40.5h1M283 41.5h1M283 42.5h1M283 43.5h1M283 44.5h1M283 45.5h1M283 46.5h1M283 47.5h1M283 48.5h1M283 49.5h1M283 50.5h1M283 51.5h1M283 52.5h1M283 53.5h1M283 54.5h1M283 55.5h1M283 56.5h1M283 57.5h1M283 58.5h1M283 59.5h1M283 60.5h1M283 61.5h1M283 62.5h1M283 63.5h1M283 65.5h1M283 66.5h1M283 67.5h1M283 69.5h1M283 70.5h1M283 72.5h1M283 76.5h1M283 77.5h1M283 78.5h1M283 80.5h1M283 81.5h1M283 83.5h1M283 84.5h1M283 88.5h1M283 90.5h1M283 91.5h1M283 101.5h1M283 104.5h1M283 105.5h1M283 107.5h1M283 111.5h1M284 25.5h1M284 28.5h1M284 32.5h1M284 34.5h1M284 38.5h1M284 39.5h1M284 40.5h1M284 41.5h1M284 42.5h1M284 43.5h1M284 44.5h1M284 46.5h1M284 47.5h1M284 49.5h1M284 50.5h1M284 51.5h1M284 52.5h1M284 53.5h1M284 54.5h1M284 55.5h1M284 56.5h1M284 57.5h1M284 58.5h1M284 59.5h1M284 60.5h1M284 62.5h1M284 63.5h1M284 69.5h1M284 70.5h1M284 72.5h1M284 77.5h1M284 79.5h1M284 80.5h1M284 82.5h1M284 86.5h1M284 89.5h1M284 90.5h1M284 91.5h1M284 98.5h1M284 100.5h1M285 26.5h1M285 29.5h1M285 32.5h1M285 33.5h1M285 34.5h1M285 35.5h1M285 37.5h1M285 38.5h1M285 39.5h1M285 40.5h1M285 45.5h1M285 46.5h1M285 47.5h1M285 48.5h1M285 49.5h1M285 51.5h1M285 52.5h1M285 53.5h1M285 54.5h1M285 55.5h1M285 58.5h1M285 59.5h1M285 61.5h1M285 65.5h1M285 67.5h1M285 68.5h1M285 69.5h1M285 71.5h1M285 72.5h1M285 73.5h1M285 79.5h1M285 80.5h1M285 83.5h1M285 84.5h1M285 92.5h1M285 94.5h1M285 99.5h1M286 36.5h1M286 40.5h1M286 43.5h1M286 46.5h1M286 47.5h1M286 48.5h1M286 49.5h1M286 51.5h1M286 52.5h1M286 55.5h1M286 58.5h1M286 59.5h1M286 61.5h1M286 64.5h1M286 65.5h1M286 67.5h1M286 71.5h1M286 73.5h1M286 75.5h1M286 76.5h1M286 82.5h1M286 88.5h1M286 94.5h1M286 102.5h1M286 105.5h1M286 108.5h1M286 113.5h1M286 121.5h1M287 36.5h1M287 37.5h1M287 40.5h1M287 41.5h1M287 42.5h1M287 43.5h1M287 44.5h1M287 46.5h1M287 47.5h1M287 48.5h1M287 51.5h1M287 54.5h1M287 55.5h1M287 56.5h1M287 58.5h1M287 61.5h1M287 63.5h1M287 69.5h1M287 74.5h1M287 79.5h1M287 88.5h1M287 93.5h1M287 105.5h1M288 27.5h1M288 30.5h1M288 37.5h1M288 39.5h1M288 41.5h1M288 44.5h1M288 45.5h1M288 46.5h1M288 47.5h1M288 49.5h1M288 50.5h1M288 52.5h1M288 54.5h1M288 55.5h1M288 56.5h1M288 58.5h1M288 59.5h1M288 61.5h1M288 62.5h1M288 63.5h1M288 65.5h1M288 66.5h1M288 68.5h1M288 71.5h1M288 72.5h1M288 84.5h1M288 85.5h1M288 87.5h1M288 89.5h1M288 90.5h1M288 92.5h1M288 93.5h1M288 94.5h1M288 97.5h1M288 98.5h1M288 99.5h1M288 107.5h1M288 116.5h1M289 32.5h1M289 33.5h1M289 34.5h1M289 35.5h1M289 37.5h1M289 44.5h1M289 47.5h1M289 48.5h1M289 50.5h1M289 53.5h1M289 55.5h1M289 58.5h1M289 59.5h1M289 60.5h1M289 61.5h1M289 63.5h1M289 68.5h1M289 75.5h1M289 76.5h1M289 79.5h1M289 80.5h1M289 82.5h1M289 83.5h1M289 85.5h1M289 91.5h1M289 92.5h1M289 97.5h1M289 103.5h1M289 104.5h1M289 115.5h1M290 25.5h1M290 29.5h1M290 38.5h1M290 40.5h1M290 41.5h1M290 46.5h1M290 47.5h1M290 48.5h1M290 49.5h1M290 50.5h1M290 56.5h1M290 59.5h1M290 60.5h1M290 64.5h1M290 65.5h1M290 66.5h1M290 67.5h1M290 71.5h1M290 74.5h1M290 77.5h1M290 80.5h1M290 81.5h1M290 91.5h1M290 106.5h1M291 26.5h1M291 33.5h1M291 36.5h1M291 40.5h1M291 41.5h1M291 42.5h1M291 47.5h1M291 48.5h1M291 49.5h1M291 50.5h1M291 56.5h1M291 57.5h1M291 59.5h1M291 61.5h1M291 75.5h1M291 77.5h1M291 81.5h1M291 82.5h1M292 35.5h1M292 39.5h1M292 45.5h1M292 49.5h1M292 50.5h1M292 53.5h1M292 56.5h1M292 60.5h1M292 64.5h1M292 65.5h1M292 66.5h1M292 67.5h1M292 68.5h1M292 76.5h1M292 84.5h1M292 85.5h1M292 98.5h1M292 104.5h1M293 26.5h1M293 31.5h1M293 34.5h1M293 35.5h1M293 39.5h1M293 42.5h1M293 43.5h1M293 46.5h1M293 50.5h1M293 51.5h1M293 52.5h1M293 58.5h1M293 60.5h1M293 65.5h1M293 66.5h1M293 69.5h1M293 73.5h1M293 79.5h1M294 31.5h1M294 32.5h1M294 36.5h1M294 44.5h1M294 48.5h1M294 50.5h1M294 53.5h1M294 62.5h1M294 68.5h1M294 69.5h1M294 71.5h1M294 94.5h1M295 42.5h1M295 49.5h1M295 52.5h1M295 54.5h1M295 57.5h1M295 58.5h1M295 62.5h1M295 63.5h1M295 66.5h1M295 75.5h1M295 77.5h1M295 81.5h1M295 89.5h1M295 93.5h1M295 101.5h1M295 103.5h1M295 108.5h1M296 36.5h1M296 39.5h1M296 46.5h1M296 47.5h1M296 48.5h1M296 50.5h1M296 52.5h1M296 62.5h1M296 63.5h1M296 64.5h1M296 73.5h1M296 75.5h1M296 78.5h1M296 79.5h1M296 81.5h1M296 90.5h1M297 41.5h1M297 43.5h1M297 50.5h1M297 51.5h1M297 54.5h1M297 55.5h1M297 61.5h1M297 64.5h1M297 66.5h1M297 72.5h1M297 79.5h1M297 80.5h1M297 85.5h1M297 99.5h1M298 35.5h1M298 38.5h1M298 49.5h1M298 54.5h1M298 55.5h1M298 63.5h1M298 67.5h1M298 68.5h1M298 69.5h1M298 72.5h1M298 73.5h1M298 86.5h1M298 87.5h1M298 92.5h1M299 27.5h1M299 36.5h1M299 48.5h1M299 54.5h1M299 56.5h1M299 63.5h1M299 64.5h1M299 67.5h1M299 78.5h1M299 103.5h1M299 112.5h1M299 115.5h1M300 42.5h1M300 52.5h1M300 55.5h1M300 70.5h1M300 77.5h1M300 78.5h1M300 81.5h1M300 88.5h1M300 147.5h1M301 57.5h1M301 61.5h1M301 74.5h1M301 80.5h1M301 106.5h1M301 111.5h1M302 47.5h1M302 49.5h1M302 54.5h1M302 62.5h1M302 63.5h1M302 72.5h1M302 73.5h1M302 80.5h1M302 84.5h1M302 85.5h1M302 90.5h1M302 103.5h1M302 107.5h1M302 116.5h1M302 156.5h1M303 41.5h1M303 47.5h1M303 60.5h1M303 63.5h1M303 73.5h1M303 101.5h1M303 108.5h1M303 113.5h1M303 132.5h1M303 158.5h1M304 59.5h1M304 63.5h1M304 64.5h1M304 67.5h1M304 68.5h1M304 70.5h1M304 77.5h1M304 78.5h1M304 89.5h1M304 93.5h1M304 107.5h1M305 47.5h1M305 50.5h1M305 51.5h1M305 57.5h1M305 60.5h1M305 75.5h1M305 101.5h1M305 107.5h1M306 52.5h1M306 64.5h1M306 84.5h1M306 89.5h1M306 107.5h1M306 111.5h1M306 112.5h1M306 113.5h1M307 67.5h1M307 72.5h1M307 77.5h1M307 78.5h1M307 81.5h1M307 83.5h1M307 90.5h1M307 102.5h1M307 104.5h1M307 124.5h1M308 38.5h1M308 43.5h1M308 57.5h1M308 59.5h1M308 71.5h1M308 73.5h1M308 94.5h1M308 98.5h1M308 99.5h1M308 102.5h1M308 105.5h1M308 116.5h1M309 53.5h1M309 59.5h1M309 66.5h1M309 77.5h1M309 86.5h1M309 99.5h1M309 103.5h1M309 108.5h1M309 110.5h1M309 113.5h1M310 38.5h1M310 45.5h1M310 55.5h1M310 63.5h1M310 70.5h1M310 81.5h1M310 90.5h1M310 103.5h1M310 107.5h1M310 110.5h1M310 111.5h1M310 113.5h1M310 116.5h1M310 119.5h1M311 50.5h1M311 58.5h1M311 62.5h1M311 66.5h1M311 78.5h1M311 94.5h1M311 99.5h1M311 100.5h1M311 101.5h1M311 106.5h1M311 107.5h1M311 109.5h1M311 111.5h1M311 114.5h1M311 115.5h1M311 117.5h1M311 121.5h1M312 50.5h1M312 66.5h1M312 68.5h1M312 82.5h1M312 96.5h1M312 101.5h1M312 106.5h1M312 107.5h1M312 108.5h1M312 110.5h1M312 114.5h1M312 122.5h1M313 55.5h1M313 72.5h1M313 93.5h1M313 97.5h1M313 101.5h1M313 104.5h1M313 106.5h1M313 113.5h1M313 115.5h1M314 42.5h1M314 44.5h1M314 54.5h1M314 55.5h1M314 60.5h1M314 70.5h1M314 86.5h1M314 94.5h1M314 100.5h1M314 103.5h1M314 104.5h1M314 107.5h1M314 108.5h1M314 109.5h1M314 112.5h1M314 115.5h1M314 118.5h1M314 121.5h1M315 40.5h1M315 48.5h1M315 53.5h1M315 54.5h1M315 66.5h1M315 67.5h1M315 96.5h1M315 104.5h1M315 105.5h1M315 110.5h1M315 111.5h1M315 113.5h1M315 115.5h1M315 116.5h1M315 117.5h1M315 121.5h1M315 164.5h1M316 30.5h1M316 60.5h1M316 75.5h1M316 80.5h1M316 101.5h1M316 102.5h1M316 106.5h1M316 109.5h1M316 111.5h1M316 112.5h1M316 115.5h1M316 117.5h1M316 120.5h1M317 63.5h1M317 64.5h1M317 75.5h1M317 86.5h1M317 93.5h1M317 95.5h1M317 100.5h1M317 104.5h1M317 107.5h1M317 111.5h1M318 63.5h1M318 70.5h1M318 71.5h1M318 72.5h1M318 73.5h1M318 75.5h1M318 86.5h1M318 89.5h1M318 98.5h1M318 103.5h1M318 106.5h1M318 108.5h1M318 114.5h1M318 115.5h1M318 139.5h1M318 151.5h1M319 62.5h1M319 66.5h1M319 74.5h1M319 77.5h1M319 83.5h1M319 89.5h1M319 91.5h1M319 104.5h1M319 105.5h1M319 106.5h1M319 110.5h1M319 113.5h1M319 117.5h1M320 64.5h1M320 69.5h1M320 87.5h1M320 91.5h1M320 100.5h1M320 105.5h1M320 107.5h1M320 108.5h1M320 110.5h1M320 114.5h1M320 119.5h1M321 55.5h1M321 62.5h1M321 66.5h1M321 71.5h1M321 72.5h1M321 75.5h1M321 76.5h1M321 84.5h1M321 95.5h1M321 96.5h1M321 98.5h1M321 104.5h1M321 106.5h1M321 107.5h1M321 109.5h1M321 110.5h1M321 114.5h1M321 116.5h1M321 117.5h1M321 120.5h1M321 152.5h1M322 47.5h1M322 61.5h1M322 64.5h1M322 73.5h1M322 79.5h1M322 82.5h1M322 83.5h1M322 85.5h1M322 88.5h1M322 89.5h1M322 96.5h1M322 98.5h1M322 103.5h1M322 108.5h1M322 113.5h1M322 114.5h1M322 124.5h1M322 125.5h1M322 139.5h1M322 149.5h1M322 162.5h1M323 59.5h1M323 61.5h1M323 68.5h1M323 75.5h1M323 78.5h1M323 88.5h1M323 92.5h1M323 99.5h1M323 103.5h1M323 104.5h1M323 107.5h1M323 108.5h1M323 114.5h1M323 115.5h1M323 116.5h1M323 143.5h1M324 56.5h1M324 70.5h1M324 76.5h1M324 77.5h1M324 93.5h1M324 103.5h1M324 105.5h1M324 108.5h1M324 109.5h1M324 111.5h1M324 113.5h1M324 115.5h1M324 163.5h1M325 75.5h1M325 93.5h1M325 96.5h1M325 97.5h1M325 100.5h1M325 108.5h1M325 109.5h1M325 114.5h1M325 156.5h1M326 41.5h1M326 56.5h1M326 67.5h1M326 69.5h1M326 78.5h1M326 81.5h1M326 83.5h1M326 91.5h1M326 94.5h1M326 104.5h1M326 105.5h1M326 107.5h1M326 108.5h1M326 121.5h1M326 134.5h1M327 40.5h1M327 59.5h1M327 79.5h1M327 91.5h1M327 104.5h1M327 108.5h1M327 111.5h1M327 124.5h1M327 158.5h1M328 50.5h1M328 59.5h1M328 62.5h1M328 71.5h1M328 76.5h1M328 78.5h1M328 83.5h1M328 99.5h1M328 105.5h1M328 107.5h1M328 109.5h1M328 118.5h1M328 120.5h1M328 142.5h1M328 150.5h1M328 163.5h1M329 48.5h1M329 106.5h1M330 68.5h1M330 80.5h1M330 83.5h1M330 98.5h1M330 105.5h1M330 107.5h1M330 119.5h1M330 148.5h1M331 52.5h1M331 53.5h1M331 64.5h1M331 65.5h1M331 76.5h1M331 79.5h1M331 81.5h1M331 97.5h1M331 100.5h1M331 101.5h1M331 103.5h1M331 110.5h1M331 113.5h1M331 117.5h1M332 58.5h1M332 61.5h1M332 66.5h1M332 67.5h1M332 84.5h1M332 92.5h1M332 96.5h1M332 108.5h1M332 111.5h1M332 114.5h1M332 115.5h1M332 116.5h1M332 124.5h1M332 139.5h1M332 163.5h1M333 55.5h1M333 81.5h1M333 88.5h1M333 90.5h1M333 93.5h1M333 94.5h1M333 95.5h1M333 96.5h1M333 98.5h1M333 128.5h1M333 145.5h1M334 53.5h1M334 60.5h1M334 76.5h1M334 79.5h1M334 82.5h1M334 98.5h1M334 123.5h1M335 39.5h1M335 58.5h1M335 69.5h1M335 83.5h1M335 93.5h1M335 101.5h1M335 113.5h1M335 122.5h1M335 145.5h1M336 50.5h1M336 60.5h1M336 79.5h1M336 101.5h1M336 102.5h1M336 110.5h1M336 112.5h1M336 124.5h1M336 125.5h1M336 132.5h1M336 138.5h1M336 145.5h1M336 147.5h1M336 150.5h1M337 50.5h1M337 82.5h1M337 95.5h1M338 57.5h1M338 82.5h1M338 97.5h1M338 110.5h1M338 125.5h1M338 160.5h1M338 164.5h1M338 170.5h1M339 76.5h1M339 87.5h1M339 91.5h1M339 97.5h1M339 99.5h1M339 103.5h1M339 106.5h1M339 113.5h1M339 122.5h1M339 124.5h1M339 156.5h1M339 163.5h1M340 60.5h1M340 62.5h1M340 70.5h1M340 73.5h1M340 81.5h1M340 87.5h1M340 95.5h1M340 96.5h1M340 97.5h1M340 106.5h1M340 109.5h1M340 115.5h1M340 121.5h1M340 131.5h1M340 132.5h1M340 138.5h1M340 144.5h1M340 163.5h1M341 51.5h1M341 55.5h1M341 64.5h1M341 75.5h1M341 76.5h1M341 81.5h1M341 96.5h1M341 99.5h1M341 104.5h1M341 117.5h1M341 124.5h1M341 138.5h1M341 143.5h1M341 146.5h1M341 150.5h1M341 153.5h1M341 160.5h1M342 55.5h1M342 62.5h1M342 77.5h1M342 87.5h1M342 88.5h1M342 89.5h1M342 93.5h1M342 94.5h1M342 96.5h1M342 102.5h1M342 107.5h1M342 108.5h1M342 110.5h1M342 112.5h1M342 113.5h1M342 114.5h1M342 117.5h1M342 119.5h1M342 125.5h1M342 129.5h1M342 136.5h1M342 138.5h1M342 140.5h1M342 143.5h1M342 146.5h1M342 153.5h1M342 155.5h1M342 158.5h1M342 160.5h1M342 164.5h1M342 167.5h1M343 57.5h1M343 65.5h1M343 74.5h1M343 81.5h1M343 92.5h1M343 94.5h1M343 102.5h1M343 105.5h1M343 108.5h1M343 111.5h1M343 113.5h1M343 114.5h1M343 119.5h1M343 121.5h1M343 123.5h1M343 125.5h1M343 126.5h1M343 128.5h1M343 136.5h1M343 141.5h1M343 143.5h1M343 147.5h1M343 149.5h1M343 160.5h1M343 163.5h1M344 64.5h1M344 68.5h1M344 69.5h1M344 74.5h1M344 85.5h1M344 86.5h1M344 88.5h1M344 89.5h1M344 91.5h1M344 94.5h1M344 96.5h1M344 98.5h1M344 103.5h1M344 110.5h1M344 111.5h1M344 112.5h1M344 116.5h1M344 127.5h1M344 128.5h1M344 129.5h1M344 132.5h1M344 133.5h1M344 137.5h1M344 144.5h1M344 145.5h1M344 150.5h1M344 158.5h1M344 159.5h1M344 160.5h1M344 161.5h1M344 167.5h1M344 168.5h1M344 170.5h1M345 50.5h1M345 64.5h1M345 66.5h1M345 76.5h1M345 81.5h1M345 84.5h1M345 86.5h1M345 88.5h1M345 89.5h1M345 92.5h1M345 96.5h1M345 102.5h1M345 107.5h1M345 109.5h1M345 110.5h1M345 111.5h1M345 115.5h1M345 116.5h1M345 123.5h1M345 126.5h1M345 127.5h1M345 130.5h1M345 131.5h1M345 132.5h1M345 136.5h1M345 140.5h1M345 141.5h1M345 142.5h1M345 144.5h1M345 155.5h1M345 156.5h1M345 158.5h1M345 162.5h1M345 163.5h1M345 165.5h1M345 170.5h1M345 171.5h1M346 61.5h1M346 63.5h1M346 65.5h1M346 71.5h1M346 78.5h1M346 80.5h1M346 84.5h1M346 96.5h1M346 97.5h1M346 100.5h1M346 101.5h1M346 109.5h1M346 111.5h1M346 116.5h1M346 120.5h1M346 122.5h1M346 123.5h1M346 126.5h1M346 127.5h1M346 131.5h1M346 134.5h1M346 137.5h1M346 143.5h1M346 146.5h1M346 148.5h1M346 151.5h1M346 161.5h1M346 162.5h1M347 44.5h1M347 62.5h1M347 67.5h1M347 75.5h1M347 78.5h1M347 79.5h1M347 82.5h1M347 88.5h1M347 90.5h1M347 92.5h1M347 93.5h1M347 100.5h1M347 103.5h1M347 106.5h1M347 108.5h1M347 113.5h1M347 114.5h1M347 119.5h1M347 125.5h1M347 127.5h1M347 128.5h1M347 130.5h1M347 131.5h1M347 134.5h1M347 136.5h1M347 138.5h1M347 140.5h1M347 144.5h1M347 145.5h1M347 146.5h1M347 148.5h1M347 149.5h1M347 158.5h1M347 159.5h1M347 160.5h1M347 162.5h1M347 165.5h1M347 166.5h1M347 169.5h1M348 56.5h1M348 61.5h1M348 62.5h1M348 66.5h1M348 68.5h1M348 72.5h1M348 75.5h1M348 80.5h1M348 81.5h1M348 83.5h1M348 87.5h1M348 88.5h1M348 89.5h1M348 91.5h1M348 93.5h1M348 94.5h1M348 95.5h1M348 97.5h1M348 100.5h1M348 105.5h1M348 107.5h1M348 108.5h1M348 117.5h1M348 118.5h1M348 121.5h1M348 122.5h1M348 123.5h1M348 124.5h1M348 127.5h1M348 131.5h1M348 133.5h1M348 139.5h1M348 147.5h1M348 152.5h1M348 153.5h1M348 154.5h1M348 155.5h1M348 161.5h1M348 163.5h1M348 169.5h1M349 61.5h1M349 69.5h1M349 75.5h1M349 77.5h1M349 79.5h1M349 80.5h1M349 81.5h1M349 82.5h1M349 83.5h1M349 87.5h1M349 88.5h1M349 91.5h1M349 95.5h1M349 97.5h1M349 100.5h1M349 101.5h1M349 103.5h1M349 107.5h1M349 108.5h1M349 109.5h1M349 110.5h1M349 113.5h1M349 117.5h1M349 119.5h1M349 121.5h1M349 122.5h1M349 130.5h1M349 131.5h1M349 136.5h1M349 142.5h1M349 145.5h1M349 147.5h1M349 148.5h1M349 149.5h1M349 150.5h1M349 154.5h1M349 159.5h1M349 160.5h1M349 162.5h1M349 163.5h1M349 166.5h1M349 168.5h1M349 169.5h1M350 51.5h1M350 59.5h1M350 62.5h1M350 64.5h1M350 66.5h1M350 68.5h1M350 73.5h1M350 77.5h1M350 78.5h1M350 81.5h1M350 85.5h1M350 86.5h1M350 88.5h1M350 90.5h1M350 92.5h1M350 93.5h1M350 94.5h1M350 99.5h1M350 100.5h1M350 101.5h1M350 104.5h1M350 105.5h1M350 106.5h1M350 110.5h1M350 111.5h1M350 112.5h1M350 115.5h1M350 116.5h1M350 117.5h1M350 118.5h1M350 119.5h1M350 120.5h1M350 122.5h1M350 123.5h1M350 124.5h1M350 125.5h1M350 127.5h1M350 128.5h1M350 129.5h1M350 130.5h1M350 131.5h1M350 134.5h1M350 136.5h1M350 137.5h1M350 141.5h1M350 142.5h1M350 144.5h1M350 145.5h1M350 146.5h1M350 147.5h1M350 148.5h1M350 149.5h1M350 150.5h1M350 151.5h1M350 154.5h1M350 164.5h1M350 168.5h1M350 169.5h1M351 54.5h1M351 59.5h1M351 62.5h1M351 69.5h1M351 71.5h1M351 75.5h1M351 79.5h1M351 83.5h1M351 85.5h1M351 86.5h1M351 88.5h1M351 92.5h1M351 93.5h1M351 95.5h1M351 96.5h1M351 97.5h1M351 99.5h1M351 100.5h1M351 101.5h1M351 104.5h1M351 105.5h1M351 107.5h1M351 108.5h1M351 112.5h1M351 114.5h1M351 116.5h1M351 117.5h1M351 119.5h1M351 120.5h1M351 124.5h1M351 125.5h1M351 126.5h1M351 127.5h1M351 129.5h1M351 135.5h1M351 137.5h1M351 139.5h1M351 141.5h1M351 142.5h1M351 143.5h1M351 146.5h1M351 150.5h1M351 155.5h1M351 157.5h1M351 161.5h1M351 162.5h1M351 163.5h1M351 165.5h1M351 166.5h1M351 168.5h1M351 169.5h1M352 51.5h1M352 52.5h1M352 55.5h1M352 56.5h1M352 58.5h1M352 59.5h1M352 62.5h1M352 63.5h1M352 65.5h1M352 66.5h1M352 68.5h1M352 69.5h1M352 70.5h1M352 77.5h1M352 80.5h1M352 82.5h1M352 85.5h1M352 86.5h1M352 87.5h1M352 90.5h1M352 91.5h1M352 92.5h1M352 93.5h1M352 96.5h1M352 98.5h1M352 99.5h1M352 100.5h1M352 103.5h1M352 107.5h1M352 110.5h1M352 111.5h1M352 112.5h1M352 114.5h1M352 115.5h1M352 122.5h1M352 123.5h1M352 126.5h1M352 128.5h1M352 132.5h1M352 133.5h1M352 136.5h1M352 138.5h1M352 139.5h1M352 140.5h1M352 143.5h1M352 144.5h1M352 147.5h1M352 148.5h1M352 149.5h1M352 151.5h1M352 157.5h1M352 159.5h1M352 160.5h1M352 163.5h1M352 166.5h1M352 168.5h1M352 169.5h1M353 50.5h1M353 53.5h1M353 59.5h1M353 63.5h1M353 64.5h1M353 67.5h1M353 70.5h1M353 72.5h1M353 78.5h1M353 84.5h1M353 85.5h1M353 86.5h1M353 91.5h1M353 92.5h1M353 94.5h1M353 97.5h1M353 99.5h1M353 101.5h1M353 106.5h1M353 108.5h1M353 109.5h1M353 110.5h1M353 111.5h1M353 114.5h1M353 116.5h1M353 117.5h1M353 120.5h1M353 121.5h1M353 124.5h1M353 127.5h1M353 129.5h1M353 130.5h1M353 133.5h1M353 137.5h1M353 139.5h1M353 141.5h1M353 142.5h1M353 143.5h1M353 144.5h1M353 146.5h1M353 147.5h1M353 151.5h1M353 155.5h1M353 162.5h1M353 165.5h1M353 168.5h1M353 170.5h1M353 171.5h1M354 58.5h1M354 62.5h1M354 71.5h1M354 72.5h1M354 73.5h1M354 75.5h1M354 77.5h1M354 78.5h1M354 79.5h1M354 80.5h1M354 85.5h1M354 86.5h1M354 88.5h1M354 89.5h1M354 90.5h1M354 95.5h1M354 96.5h1M354 97.5h1M354 98.5h1M354 101.5h1M354 102.5h1M354 103.5h1M354 104.5h1M354 105.5h1M354 106.5h1M354 107.5h1M354 109.5h1M354 115.5h1M354 119.5h1M354 122.5h1M354 126.5h1M354 132.5h1M354 133.5h1M354 140.5h1M354 141.5h1M354 150.5h1M354 151.5h1M354 154.5h1M354 155.5h1M354 156.5h1M354 157.5h1M354 158.5h1M354 159.5h1M354 162.5h1M354 168.5h1M354 169.5h1M355 59.5h1M355 63.5h1M355 64.5h1M355 66.5h1M355 67.5h1M355 68.5h1M355 70.5h1M355 71.5h1M355 73.5h1M355 82.5h1M355 83.5h1M355 84.5h1M355 87.5h1M355 91.5h1M355 93.5h1M355 95.5h1M355 97.5h1M355 100.5h1M355 101.5h1M355 104.5h1M355 107.5h1M355 112.5h1M355 113.5h1M355 114.5h1M355 116.5h1M355 121.5h1M355 124.5h1M355 129.5h1M355 130.5h1M355 131.5h1M355 133.5h1M355 138.5h1M355 139.5h1M355 144.5h1M355 145.5h1M355 146.5h1M355 150.5h1M355 151.5h1M355 152.5h1M355 156.5h1M355 157.5h1M355 160.5h1M355 164.5h1M355 166.5h1M355 170.5h1M356 57.5h1M356 58.5h1M356 60.5h1M356 64.5h1M356 65.5h1M356 66.5h1M356 68.5h1M356 70.5h1M356 71.5h1M356 72.5h1M356 73.5h1M356 75.5h1M356 84.5h1M356 86.5h1M356 90.5h1M356 92.5h1M356 99.5h1M356 105.5h1M356 106.5h1M356 107.5h1M356 110.5h1M356 113.5h1M356 115.5h1M356 123.5h1M356 124.5h1M356 125.5h1M356 134.5h1M356 135.5h1M356 138.5h1M356 140.5h1M356 141.5h1M356 149.5h1M356 150.5h1M356 154.5h1M356 160.5h1M356 162.5h1M356 163.5h1M356 164.5h1M356 165.5h1M356 168.5h1M356 170.5h1M357 61.5h1M357 62.5h1M357 63.5h1M357 70.5h1M357 82.5h1M357 84.5h1M357 89.5h1M357 91.5h1M357 100.5h1M357 101.5h1M357 107.5h1M357 109.5h1M357 110.5h1M357 111.5h1M357 113.5h1M357 115.5h1M357 117.5h1M357 119.5h1M357 121.5h1M357 123.5h1M357 125.5h1M357 127.5h1M357 128.5h1M357 134.5h1M357 138.5h1M357 139.5h1M357 140.5h1M357 143.5h1M357 147.5h1M357 154.5h1M357 155.5h1M357 159.5h1M357 162.5h1M357 170.5h1M358 51.5h1M358 60.5h1M358 62.5h1M358 63.5h1M358 70.5h1M358 72.5h1M358 73.5h1M358 75.5h1M358 77.5h1M358 83.5h1M358 86.5h1M358 88.5h1M358 90.5h1M358 92.5h1M358 95.5h1M358 96.5h1M358 97.5h1M358 98.5h1M358 101.5h1M358 106.5h1M358 109.5h1M358 113.5h1M358 115.5h1M358 124.5h1M358 127.5h1M358 133.5h1M358 136.5h1M358 139.5h1M358 149.5h1M358 153.5h1M358 160.5h1M358 161.5h1M358 165.5h1M358 166.5h1M359 54.5h1M359 58.5h1M359 60.5h1M359 62.5h1M359 65.5h1M359 69.5h1M359 77.5h1M359 78.5h1M359 79.5h1M359 81.5h1M359 83.5h1M359 84.5h1M359 88.5h1M359 90.5h1M359 94.5h1M359 96.5h1M359 97.5h1M359 100.5h1M359 101.5h1M359 103.5h1M359 110.5h1M359 112.5h1M359 121.5h1M359 125.5h1M359 127.5h1M359 132.5h1M359 137.5h1M359 146.5h1M359 152.5h1M359 154.5h1M359 160.5h1M359 165.5h1M360 52.5h1M360 60.5h1M360 67.5h1M360 76.5h1M360 77.5h1M360 82.5h1M360 93.5h1M360 94.5h1M360 97.5h1M360 99.5h1M360 100.5h1M360 101.5h1M360 106.5h1M360 119.5h1M360 123.5h1M360 124.5h1M360 125.5h1M360 128.5h1M360 145.5h1M360 155.5h1M360 157.5h1M360 164.5h1M360 166.5h1M361 62.5h1M361 64.5h1M361 73.5h1M361 87.5h1M361 90.5h1M361 94.5h1M361 97.5h1M361 99.5h1M361 102.5h1M361 103.5h1M361 116.5h1M361 117.5h1M361 119.5h1M361 127.5h1M361 135.5h1M361 137.5h1M361 141.5h1M361 142.5h1M361 152.5h1M361 155.5h1M361 157.5h1M361 158.5h1M361 161.5h1M362 52.5h1M362 62.5h1M362 76.5h1M362 82.5h1M362 94.5h1M362 117.5h1M362 146.5h1M362 149.5h1M362 162.5h1M363 52.5h1M363 57.5h1M363 68.5h1M363 84.5h1M363 100.5h1M363 131.5h1M363 132.5h1M364 54.5h1M364 55.5h1M364 72.5h1M364 81.5h1M364 82.5h1M364 116.5h1M364 139.5h1M364 143.5h1M364 146.5h1M365 67.5h1M366 69.5h1M366 71.5h1M366 91.5h1M366 101.5h1M366 102.5h1M367 55.5h1M367 62.5h1M367 75.5h1M367 93.5h1M369 71.5h1M369 74.5h1M369 100.5h1M369 116.5h1M369 122.5h1M370 61.5h1M370 164.5h1" fill="none" stroke="#000" stroke-width="1" shape-rendering="crispEdges"/></g>
<g id="labels" fill="#000">
<text transform="translate(123.86 26.00) scale(0.9647 1.0058)" font-family="'Liberation Sans',Arial,Helvetica,sans-serif" font-weight="700" stroke="#000" stroke-width="1.1" stroke-linejoin="miter" font-size="36">A</text>
<text transform="translate(29.53 40.20) scale(1.1458 1.1048)" font-family="'Liberation Sans',Arial,Helvetica,sans-serif" font-weight="700" font-size="15">800</text>
<text transform="translate(29.53 111.90) scale(1.1458 1.1048)" font-family="'Liberation Sans',Arial,Helvetica,sans-serif" font-weight="700" font-size="15">600</text>
<text transform="translate(29.72 183.80) scale(1.1381 1.1048)" font-family="'Liberation Sans',Arial,Helvetica,sans-serif" font-weight="700" font-size="15">400</text>
<text transform="translate(29.53 258.10) scale(1.1417 1.1048)" font-family="'Liberation Sans',Arial,Helvetica,sans-serif" font-weight="700" font-size="15">200</text>
<text transform="translate(46.22 329.20) scale(1.1586 1.1048)" font-family="'Liberation Sans',Arial,Helvetica,sans-serif" font-weight="700" font-size="15">0</text>
<text transform="translate(84.64 375.60) scale(1.1172 1.0762)" font-family="'Liberation Sans',Arial,Helvetica,sans-serif" font-weight="700" font-size="15">0</text>
<text transform="translate(152.92 375.60) scale(1.1000 1.1024)" font-family="'Liberation Sans',Arial,Helvetica,sans-serif" font-weight="700" font-size="15">4</text>
<text transform="translate(222.46 375.60) scale(1.0759 1.0762)" font-family="'Liberation Sans',Arial,Helvetica,sans-serif" font-weight="700" font-size="15">8</text>
<text transform="translate(284.49 375.60) scale(1.0067 1.0762)" font-family="'Liberation Sans',Arial,Helvetica,sans-serif" font-weight="700" font-size="15">12</text>
<text transform="translate(352.36 375.60) scale(1.0400 1.0762)" font-family="'Liberation Sans',Arial,Helvetica,sans-serif" font-weight="700" font-size="15">16</text>
<text transform="translate(420.96 375.60) scale(1.0710 1.0762)" font-family="'Liberation Sans',Arial,Helvetica,sans-serif" font-weight="700" font-size="15">20</text>
<text transform="translate(489.64 375.60) scale(1.1125 1.0762)" font-family="'Liberation Sans',Arial,Helvetica,sans-serif" font-weight="700" font-size="15">24</text>
<text transform="translate(188.10 394.54) scale(1.0811 1.0576)" font-family="'Liberation Sans',Arial,Helvetica,sans-serif" font-weight="700" font-size="20">Weeks</text>
<text transform="translate(263.16 394.52) scale(1.0758 1.1143)" font-family="'Liberation Sans',Arial,Helvetica,sans-serif" font-weight="700" font-size="20">From</text>
<text transform="translate(323.36 394.54) scale(1.0695 1.0576)" font-family="'Liberation Sans',Arial,Helvetica,sans-serif" font-weight="700" font-size="20">Inoculation</text>
<text transform="translate(17.12 250.65) scale(1.1357 1.0835) rotate(-90)" font-family="'Liberation Sans',Arial,Helvetica,sans-serif" font-weight="700" font-size="20">Human</text>
<text transform="translate(16.93 171.49) scale(1.1222 1.1082) rotate(-90)" font-family="'Liberation Sans',Arial,Helvetica,sans-serif" font-weight="700" font-size="20">Ig</text>
<text transform="translate(17.05 144.60) scale(1.0933 1.0039) rotate(-90)" font-family="'Liberation Sans',Arial,Helvetica,sans-serif" font-weight="700" font-size="20">(μg/ml)</text>
<text transform="translate(130.33 114.11) scale(1.1663 1.0429)" font-family="'Liberation Sans',Arial,Helvetica,sans-serif" font-weight="700" font-size="15.5">IgG</text>
<text transform="translate(130.39 141.10) scale(1.1149 1.0143)" font-family="'Liberation Sans',Arial,Helvetica,sans-serif" font-weight="700" font-size="15.5">IgA</text>
<text transform="translate(130.32 58.66) scale(1.1830 1.0286)" font-family="'Liberation Sans',Arial,Helvetica,sans-serif" font-weight="700" font-size="15.5">Ig</text>
<text transform="translate(130.32 86.56) scale(1.1830 1.0286)" font-family="'Liberation Sans',Arial,Helvetica,sans-serif" font-weight="700" font-size="15.5">Ig</text>
<text transform="translate(148.30 58.90) scale(1.2000 1.0595)" font-family="'DejaVu Serif','Liberation Serif',serif" font-size="18">κ</text>
<text transform="translate(148.34 86.90) scale(1.1273 0.9255)" font-family="'Liberation Serif','Times New Roman',serif" font-size="18">λ</text>
<text transform="translate(270.90 196.00) scale(1.0038 1.0483)" font-family="'Liberation Sans',Arial,Helvetica,sans-serif" font-weight="700" font-size="10.5">CD45</text>
<text transform="translate(198.60 87.41) scale(1.1310 1.0154) rotate(-90)" font-family="'Liberation Sans',Arial,Helvetica,sans-serif" font-weight="700" font-size="10.5">CD38</text>
<text transform="translate(216.29 188.33) scale(0.8216 1.0815)" font-family="'Liberation Sans',Arial,Helvetica,sans-serif" stroke="#000" stroke-width="0.28" font-size="9">10</text>
<text transform="translate(224.49 183.40) scale(1.2267 1.1818)" font-family="'Liberation Sans',Arial,Helvetica,sans-serif" stroke="#000" stroke-width="0.18" font-size="7.5">0</text>
<text transform="translate(259.49 188.33) scale(0.8216 1.0815)" font-family="'Liberation Sans',Arial,Helvetica,sans-serif" stroke="#000" stroke-width="0.28" font-size="9">10</text>
<text transform="translate(267.54 183.70) scale(0.9143 1.2381)" font-family="'Liberation Sans',Arial,Helvetica,sans-serif" stroke="#000" stroke-width="0.18" font-size="7.5">1</text>
<text transform="translate(302.69 188.33) scale(0.8216 1.0815)" font-family="'Liberation Sans',Arial,Helvetica,sans-serif" stroke="#000" stroke-width="0.28" font-size="9">10</text>
<text transform="translate(310.89 183.70) scale(1.2267 1.2381)" font-family="'Liberation Sans',Arial,Helvetica,sans-serif" stroke="#000" stroke-width="0.18" font-size="7.5">2</text>
<text transform="translate(345.89 188.33) scale(0.8216 1.0815)" font-family="'Liberation Sans',Arial,Helvetica,sans-serif" stroke="#000" stroke-width="0.28" font-size="9">10</text>
<text transform="translate(354.09 183.40) scale(1.2267 1.1818)" font-family="'Liberation Sans',Arial,Helvetica,sans-serif" stroke="#000" stroke-width="0.18" font-size="7.5">3</text>
<text transform="translate(389.09 188.33) scale(0.8216 1.0815)" font-family="'Liberation Sans',Arial,Helvetica,sans-serif" stroke="#000" stroke-width="0.28" font-size="9">10</text>
<text transform="translate(397.60 183.70) scale(1.1500 1.2381)" font-family="'Liberation Sans',Arial,Helvetica,sans-serif" stroke="#000" stroke-width="0.18" font-size="7.5">4</text>
<text transform="translate(215.54 180.71) scale(1.0222 1.0270) rotate(-90)" font-family="'Liberation Sans',Arial,Helvetica,sans-serif" stroke="#000" stroke-width="0.28" font-size="9">10</text>
<text transform="translate(209.93 170.52) scale(1.0909 1.6800) rotate(-90)" font-family="'Liberation Sans',Arial,Helvetica,sans-serif" stroke="#000" stroke-width="0.18" font-size="7.5">0</text>
<text transform="translate(215.54 141.51) scale(1.0222 1.0270) rotate(-90)" font-family="'Liberation Sans',Arial,Helvetica,sans-serif" stroke="#000" stroke-width="0.28" font-size="9">10</text>
<text transform="translate(210.20 131.60) scale(1.1429 1.4000) rotate(-90)" font-family="'Liberation Sans',Arial,Helvetica,sans-serif" stroke="#000" stroke-width="0.18" font-size="7.5">1</text>
<text transform="translate(215.54 102.31) scale(1.0222 1.0270) rotate(-90)" font-family="'Liberation Sans',Arial,Helvetica,sans-serif" stroke="#000" stroke-width="0.28" font-size="9">10</text>
<text transform="translate(210.20 92.12) scale(1.1429 1.6800) rotate(-90)" font-family="'Liberation Sans',Arial,Helvetica,sans-serif" stroke="#000" stroke-width="0.18" font-size="7.5">2</text>
<text transform="translate(215.54 63.11) scale(1.0222 1.0270) rotate(-90)" font-family="'Liberation Sans',Arial,Helvetica,sans-serif" stroke="#000" stroke-width="0.28" font-size="9">10</text>
<text transform="translate(209.93 52.92) scale(1.0909 1.6800) rotate(-90)" font-family="'Liberation Sans',Arial,Helvetica,sans-serif" stroke="#000" stroke-width="0.18" font-size="7.5">3</text>
<text transform="translate(215.54 23.91) scale(1.0222 1.0270) rotate(-90)" font-family="'Liberation Sans',Arial,Helvetica,sans-serif" stroke="#000" stroke-width="0.28" font-size="9">10</text>
<text transform="translate(210.20 13.30) scale(1.1429 1.5750) rotate(-90)" font-family="'Liberation Sans',Arial,Helvetica,sans-serif" stroke="#000" stroke-width="0.18" font-size="7.5">4</text>
</g>
</svg>
</body></html>
